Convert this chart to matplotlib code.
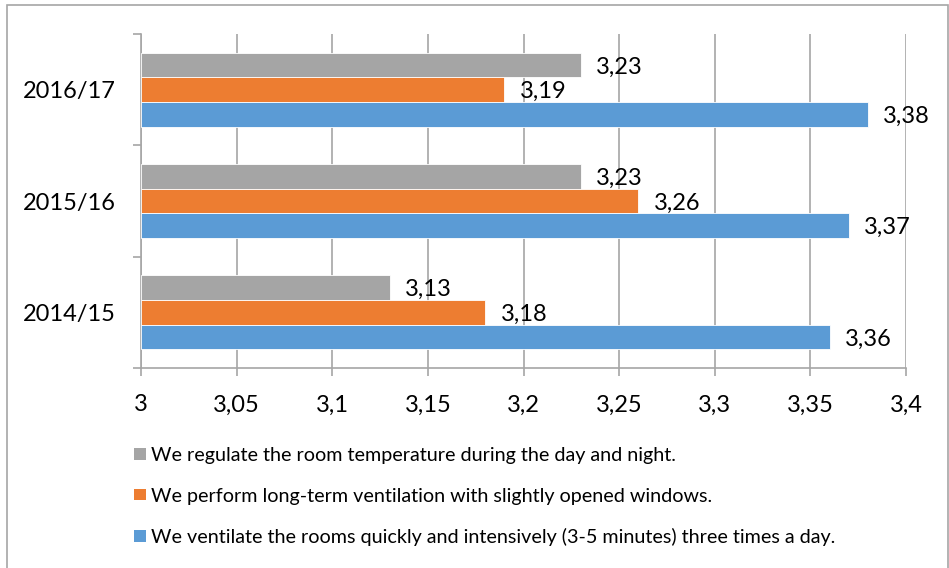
import matplotlib
matplotlib.use("Agg")
import matplotlib.pyplot as plt
from matplotlib.patches import Rectangle, Patch
from matplotlib.ticker import FuncFormatter, FixedLocator

plt.rcParams['font.family'] = ['Lato', 'DejaVu Sans']

years = ["2014/15", "2015/16", "2016/17"]
regulate = [3.13, 3.23, 3.23]
long_term = [3.18, 3.26, 3.19]
quick = [3.36, 3.37, 3.38]
series_names = [
    "We regulate the room temperature during the day and night.",
    "We perform long-term ventilation with slightly opened windows.",
    "We ventilate the rooms quickly and intensively (3-5 minutes) three times a day.",
]
colors = ["#A5A5A5", "#ED7D31", "#5B9BD5"]
xticks = [3, 3.05, 3.1, 3.15, 3.2, 3.25, 3.3, 3.35, 3.4]

fig = plt.figure(figsize=(9.49, 5.68), dpi=100)
ax = fig.add_axes([0.1486, 0.3521, 0.8061, 0.588])

# outer chart border
fig.patches.append(Rectangle((7 / 949, -0.01), 941 / 949, 1 - 5 / 568 + 0.01,
                             transform=fig.transFigure, fill=False,
                             edgecolor="#A6A6A6", lw=1.2))

bw = 0.222
ypos = list(range(len(years)))
offsets = [bw, 0, -bw]
for vals, off, col in zip([regulate, long_term, quick], offsets, colors):
    y = [p + off for p in ypos]
    ax.barh(y, [v - 3 for v in vals], left=3, height=bw, color=col,
            edgecolor="white", linewidth=0.6, zorder=3)
    for yy, v in zip(y, vals):
        ax.annotate(f"{v:.2f}".replace(".", ","), (v, yy), xytext=(11, -1.5),
                    textcoords="offset points", va="center", ha="left",
                    fontsize=17, color="black", zorder=4)

ax.set_xlim(3, 3.4)
ax.set_ylim(-0.5, 2.5)
ax.set_xticks(xticks)
ax.xaxis.set_major_formatter(FuncFormatter(lambda x, p: f"{x:g}".replace(".", ",")))
ax.grid(axis="x", color="#A6A6A6", lw=1.2, zorder=0)
ax.tick_params(axis="x", length=6, width=1.2, color="#A6A6A6", pad=13,
               labelsize=17)

ax.set_yticks(ypos)
ax.set_yticklabels(years)
ax.tick_params(axis="y", which="major", length=0, pad=18, labelsize=17)
ax.yaxis.set_minor_locator(FixedLocator([-0.5, 0.5, 1.5, 2.5]))
ax.tick_params(axis="y", which="minor", length=6, width=1.2, color="#A6A6A6")

for s in ["top", "right"]:
    ax.spines[s].set_visible(False)
for s in ["left", "bottom"]:
    ax.spines[s].set_color("#A6A6A6")
    ax.spines[s].set_linewidth(1.2)

handles = [Patch(facecolor=c, edgecolor="none") for c in colors]
fig.legend(handles, series_names, loc="upper left",
           bbox_to_anchor=(124 / 949, 1 - 437 / 568), frameon=False,
           fontsize=14.2, handlelength=0.6, handleheight=0.55,
           handletextpad=0.25, labelspacing=1.2, borderpad=0)

fig.savefig("out.png", dpi=100)
